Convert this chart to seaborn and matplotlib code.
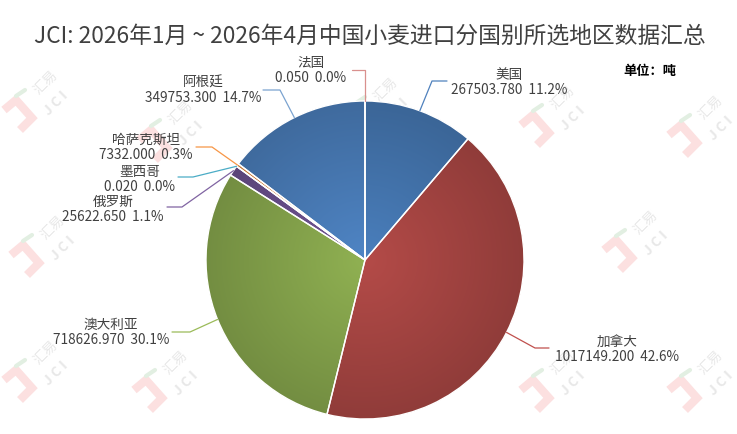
import numpy as np
import matplotlib
matplotlib.use("Agg")
import matplotlib.pyplot as plt
from matplotlib.colors import to_rgb
import seaborn as sns

# data
countries = ["美国", "加拿大", "澳大利亚", "俄罗斯", "墨西哥", "哈萨克斯坦", "阿根廷", "法国"]
tonnes = [267503.780, 1017149.200, 718626.970, 25622.650, 0.020, 7332.000, 349753.300, 0.050]
title = "JCI: 2026年1月 ~ 2026年4月中国小麦进口分国别所选地区数据汇总"
unit_text = "单位：吨"

# styles
slice_colors = ["#4a7fbd", "#b44b48", "#90b152", "#725697", "#4bacc6", "#f79646", "#4f85c5", "#d9908e"]
line_colors = ["#4f81bd", "#c0504d", "#9bbb59", "#8064a2", "#4bacc6", "#f79646", "#7ba3d0", "#d9908e"]
text_color = "#404040"

# layout, in pixels from the top-left corner
W, H = 737, 435
pie_center = (365, 261)
pie_radius = 159
label_pos = [(509, 75), (617, 342), (111, 325), (113, 202),
             (140, 172), (146, 140), (203, 83), (311, 63)]
bend_pos = [(432, 82), (535, 349), (190, 333), (182, 208),
            (193, 178), (212, 148), (280, 91), (365, 71)]
end_pos = [(447, 82), (549, 349), (172, 333), (167, 208),
           (178, 178), (196, 148), (263, 91), (352, 71)]
logo_pos = [(40, 105), (175, 135), (380, 112), (557, 120), (705, 130),
            (47, 250), (245, 245), (640, 245),
            (40, 375), (170, 385), (380, 390), (557, 385), (705, 385)]


def Y(py):
    return H - py


sns.set_theme(style="white")
plt.rcParams["font.family"] = ["Noto Sans CJK SC", "DejaVu Sans"]

fig = plt.figure(figsize=(W / 100, H / 100), dpi=100)
ax = fig.add_axes([0, 0, 1, 1])

# faint JCI watermarks behind everything
for lx, ly in logo_pos:
    ax.plot([lx - 36, lx - 24, lx - 8, lx - 20], [Y(ly + 6), Y(ly - 4), Y(ly + 14), Y(ly + 26)],
            color="#fce0e0", lw=6, solid_joinstyle="miter", solid_capstyle="butt", zorder=0)
    ax.plot([lx - 24, lx - 15], [Y(ly - 8), Y(ly - 14)], color="#e2efe2", lw=3, zorder=0)
    ax.text(lx + 6, Y(ly - 22), "汇易", rotation=45, fontsize=10, color="#e8e8e8",
            ha="center", va="center", zorder=0)
    ax.text(lx + 16, Y(ly - 2), "J C I", rotation=45, fontsize=10, color="#e8e8e8",
            ha="center", va="center", fontweight="bold", zorder=0)

cx, cy = pie_center[0], Y(pie_center[1])
R = pie_radius
wedges, _ = ax.pie(tonnes, colors=slice_colors, startangle=90, counterclock=False,
                   center=(cx, cy), radius=R, wedgeprops=dict(linewidth=0))

# radial shading, lighter in the middle
n = 400
gx, gy = np.meshgrid(np.linspace(-1, 1, n), np.linspace(-1, 1, n))
shade = 1.0 - 0.2 * np.clip(np.hypot(gx, gy), 0, 1)
for w, c in zip(wedges, slice_colors):
    rgb = np.array(to_rgb(c))
    img = np.clip(shade[..., None] * rgb[None, None, :], 0, 1)
    im = ax.imshow(img, extent=(cx - R, cx + R, cy - R, cy + R), origin="lower",
                   interpolation="bilinear", zorder=2)
    im.set_clip_path(w)

ax.pie(tonnes, startangle=90, counterclock=False, center=(cx, cy), radius=R,
       wedgeprops=dict(fill=False, edgecolor="white", linewidth=1.0, zorder=3))

total = sum(tonnes)
for i, w in enumerate(wedges):
    mid = np.deg2rad((w.theta1 + w.theta2) / 2)
    x0, y0 = cx + R * np.cos(mid), cy + R * np.sin(mid)
    ax.plot([x0, bend_pos[i][0], end_pos[i][0]], [y0, Y(bend_pos[i][1]), Y(end_pos[i][1])],
            color=line_colors[i], lw=0.9, zorder=4)
    lx, ly = label_pos[i]
    ax.text(lx, Y(ly), countries[i], fontsize=9.8, color=text_color,
            ha="center", va="center", zorder=5)
    ax.text(lx, Y(ly + 15), f"{tonnes[i]:.3f}  {tonnes[i] / total * 100:.1f}%", fontsize=9.8,
            color=text_color, ha="center", va="center", zorder=5)

ax.text(370, Y(36), title, fontsize=16.4, color=text_color, ha="center", va="center")
ax.text(650, Y(71), unit_text, fontsize=9.5, color="black", fontweight="bold",
        ha="center", va="center")

ax.set_xlim(0, W)
ax.set_ylim(0, H)
ax.set_aspect("auto")
ax.set_axis_off()

fig.savefig("out.png", dpi=100, facecolor="white")
